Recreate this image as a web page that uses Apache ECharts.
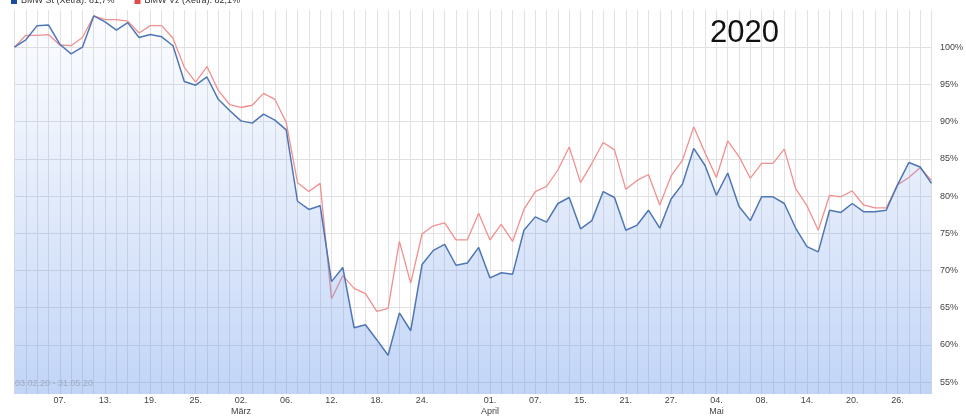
<!DOCTYPE html>
<html>
<head>
<meta charset="utf-8">
<script src="https://cdn.jsdelivr.net/npm/echarts@6/dist/echarts.min.js"></script>
<style>
html,body{margin:0;padding:0;background:#fff;}
#c{width:966px;height:417px;}
</style>
</head>
<body>
<div id="c"></div>
<script>
const dates = [
 '03.02.','04.02.','05.02.','06.02.','07.02.','10.02.','11.02.','12.02.','13.02.','14.02.',
 '17.02.','18.02.','19.02.','20.02.','21.02.','24.02.','25.02.','26.02.','27.02.','28.02.',
 '02.03.','03.03.','04.03.','05.03.','06.03.','09.03.','10.03.','11.03.','12.03.','13.03.',
 '16.03.','17.03.','18.03.','19.03.','20.03.','23.03.','24.03.','25.03.','26.03.','27.03.',
 '30.03.','31.03.','01.04.','02.04.','03.04.','06.04.','07.04.','08.04.','09.04.','14.04.',
 '15.04.','16.04.','17.04.','20.04.','21.04.','22.04.','23.04.','24.04.','27.04.','28.04.',
 '29.04.','30.04.','04.05.','05.05.','06.05.','07.05.','08.05.','11.05.','12.05.','13.05.',
 '14.05.','15.05.','18.05.','19.05.','20.05.','21.05.','22.05.','25.05.','26.05.','27.05.',
 '28.05.','29.05.'
];
const bmwSt = [
 100.0,101.0,102.9,103.0,100.4,99.1,100.0,104.2,103.4,102.3,
 103.3,101.3,101.7,101.4,100.2,95.4,94.9,96.0,93.0,91.5,
 90.1,89.8,91.0,90.2,88.9,79.3,78.2,78.7,68.5,70.4,
 62.3,62.7,60.7,58.6,64.3,61.9,70.8,72.7,73.5,70.7,
 71.0,73.1,69.0,69.7,69.5,75.4,77.2,76.5,79.0,79.8,
 75.6,76.7,80.6,79.8,75.4,76.1,78.1,75.7,79.6,81.6,
 86.4,84.1,80.1,83.1,78.6,76.7,79.9,79.9,79.0,75.7,
 73.2,72.5,78.1,77.8,79.0,77.9,77.9,78.1,81.5,84.5,
 83.9,81.7
];
const bmwVz = [
 100.0,101.6,101.6,101.7,100.3,100.2,101.3,104.2,103.7,103.7,
 103.5,101.9,102.9,102.9,101.2,97.3,95.3,97.4,94.2,92.3,
 91.9,92.2,93.8,93.0,89.9,81.8,80.6,81.7,66.2,69.3,
 67.6,66.9,64.5,64.9,73.9,68.3,74.9,76.0,76.4,74.1,
 74.1,77.7,74.1,76.2,73.9,78.2,80.6,81.3,83.5,86.6,
 81.8,84.4,87.2,86.2,80.9,82.1,82.9,78.8,82.7,84.8,
 89.3,85.8,82.5,87.4,85.3,82.4,84.4,84.4,86.3,81.0,
 78.7,75.4,80.1,79.9,80.7,78.8,78.4,78.4,81.5,82.5,
 83.8,82.1
];
const tickDays = ['07.02.','13.02.','19.02.','25.02.','02.03.','06.03.','12.03.','18.03.','24.03.',
 '01.04.','07.04.','15.04.','21.04.','27.04.','04.05.','08.05.','14.05.','20.05.','26.05.'];
const monthNames = {'02.03.':'März','01.04.':'April','04.05.':'Mai'};
const yTicks = [55,60,65,70,75,80,85,90,95,100];
const seriesNames = ['BMW St (Xetra)','BMW Vz (Xetra)'];
const periodText = '03.02.20 - 31.05.20';
const titleText = '2020';

const FONT = '"Liberation Sans", Arial, sans-serif';
const fmtPct = v => v.toFixed(1).replace('.', ',') + '%';
const lastVals = { [seriesNames[0]]: bmwSt[bmwSt.length-1], [seriesNames[1]]: bmwVz[bmwVz.length-1] };

const chart = echarts.init(document.getElementById('c'), null, {renderer:'canvas'});
chart.setOption({
  animation:false,
  textStyle:{fontFamily:FONT},
  title:{text:titleText,left:705,top:13,textStyle:{fontSize:31,fontWeight:'normal',color:'#111',fontFamily:FONT}},
  legend:{
    left:11, top:-3.5, padding:0, itemGap:20, itemWidth:6, itemHeight:6, icon:'rect',
    data:[{name:seriesNames[0],itemStyle:{color:'#1d4c9e'}},{name:seriesNames[1],itemStyle:{color:'#e04a4a'}}],
    formatter: n => n + ': ' + fmtPct(lastVals[n]),
    textStyle:{fontSize:9,color:'#333',padding:[0,0,0,-1]}
  },
  graphic:[{type:'text',left:15,top:379,z:10,style:{text:periodText,fill:'#a0abbd',fontSize:9,fontFamily:FONT}}],
  grid:{left:14.5,right:30.5,top:10,bottom:23,containLabel:false},
  xAxis:{
    type:'category',data:dates,boundaryGap:false,
    axisLine:{show:false},axisTick:{show:false},
    axisLabel:{
      margin:1,fontSize:9,color:'#444',lineHeight:11,
      interval:(i,v)=>tickDays.includes(v),
      formatter:v=> v.slice(0,3) + (monthNames[v] ? '\n'+monthNames[v] : '')
    },
    splitLine:{show:true,interval:0,lineStyle:{color:'#e2e2e2',width:1}}
  },
  yAxis:{
    type:'value',position:'right',min:53.4,max:105,
    axisLine:{show:false},
    axisTick:{show:false,customValues:yTicks},
    axisLabel:{customValues:yTicks,margin:8.5,fontSize:9,color:'#444',formatter:v=>v+'%'},
    splitLine:{show:true,lineStyle:{color:'#e0e0e0',width:1}}
  },
  series:[
    {name:seriesNames[1],type:'line',data:bmwVz,symbol:'none',z:3,
     lineStyle:{color:'#f09090',width:1.3},itemStyle:{color:'#e04a4a'}},
    {name:seriesNames[0],type:'line',data:bmwSt,symbol:'none',z:4,
     lineStyle:{color:'#4e76b5',width:1.5},itemStyle:{color:'#1d4c9e'},
     areaStyle:{origin:'start',color:new echarts.graphic.LinearGradient(0,0,0,1,[
       {offset:0,color:'rgba(120,160,235,0.03)'},{offset:1,color:'rgba(95,145,235,0.55)'}])}}
  ]
});
</script>
</body>
</html>
